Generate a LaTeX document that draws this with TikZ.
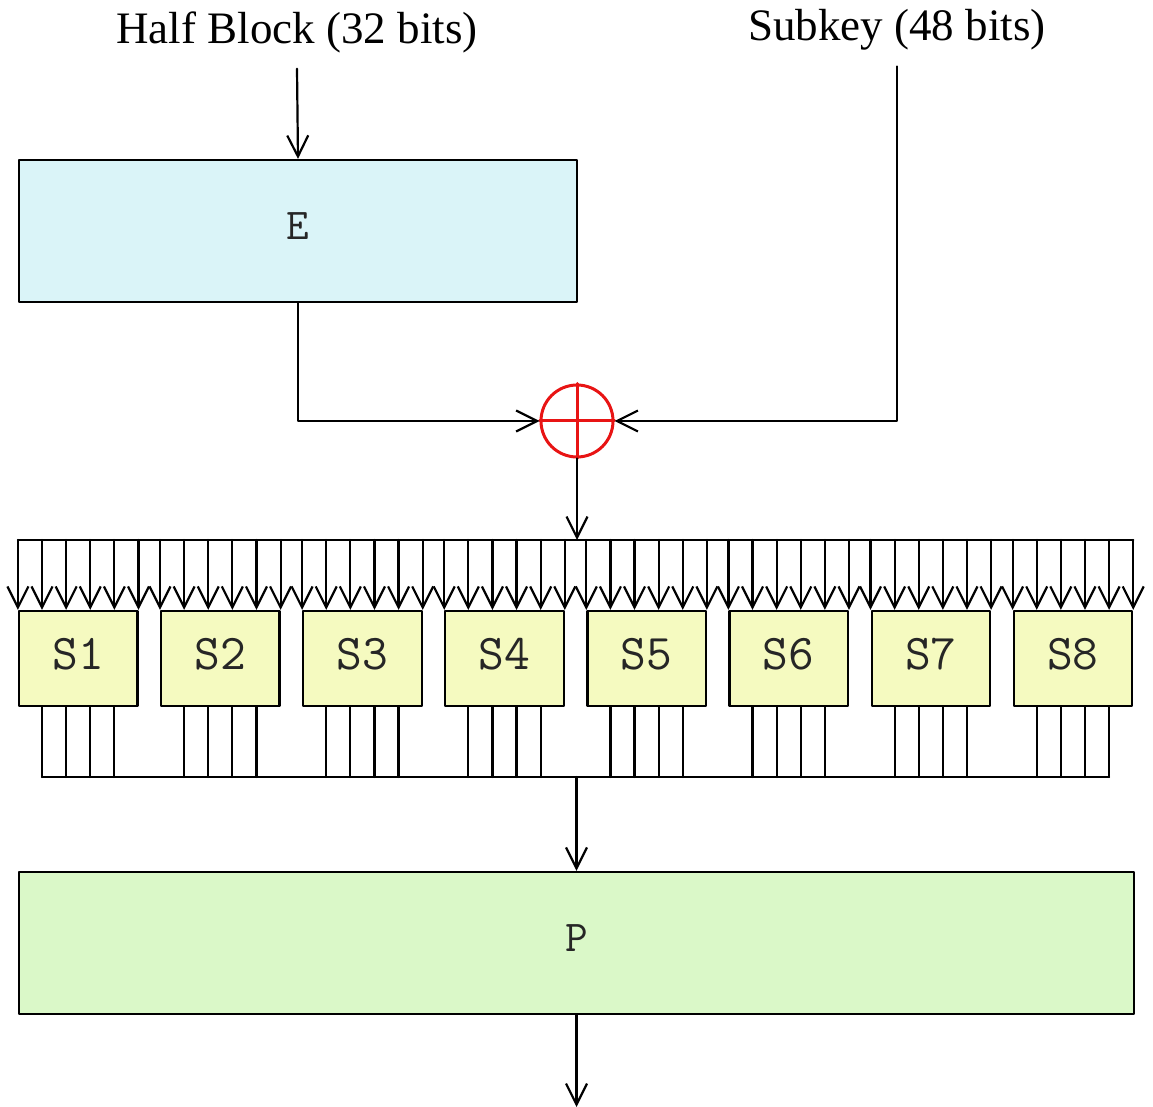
\documentclass[tikz,border=0pt]{standalone}
\usepackage{fontspec}
\setmainfont{Liberation Serif}
\usetikzlibrary{arrows.meta,calc}
\definecolor{ecyan}{RGB}{218,244,248}
\definecolor{syellow}{RGB}{245,250,192}
\definecolor{pgreen}{RGB}{218,248,200}
\definecolor{xorred}{RGB}{232,20,20}

\begin{document}
\begin{tikzpicture}[x=0.5pt,y=-0.5pt,line cap=round,line join=round,line width=1.1pt,
  >={Straight Barb[length=10.5pt,width=10.5pt]},
  title/.style={font=\fontsize{22.5}{26}\selectfont,inner sep=0pt,outer ysep=8pt},
  fbox/.style={draw,line width=1.1pt,text=black!85,inner sep=0pt,text depth=5pt,font=\ttfamily\fontsize{22}{26}\selectfont},
  sbox/.style={fbox,fill=syellow,minimum width=59.2pt,minimum height=47.5pt,font=\ttfamily\fontsize{25}{29}\selectfont}]
  \useasboundingbox (0,0) rectangle (1153,1107);
  \node[title] (hb) at (297,32) {Half Block (32 bits)};
  \node[title] (sk) at (897,30) {Subkey (48 bits)};
  \node[fbox,fill=ecyan,minimum width=279pt,minimum height=71pt] (E) at (298,231) {E};
  \node[circle,draw=xorred,line width=1.5pt,minimum size=36pt,inner sep=0pt] (xor) at (577,421) {};
  \draw[xorred,line width=1.5pt] (xor.north) -- (xor.south) (xor.west) -- (xor.east);
  \draw[->] (hb.south) -- (E.north);
  \draw[->] (E.south) |- (xor.west);
  \draw[->] (sk.south) |- (xor.east);
  \coordinate (bus) at (577,540);
  \coordinate (obus) at (577,777);
  \draw[->] (xor.south) -- (xor |- bus);
  \foreach \i in {1,...,8}
    \node[sbox] (s\i) at ({78.2+142.1*(\i-1)},658.5) {S\i};
  \foreach \i in {1,...,8} {
    \foreach \j in {0,...,5} {
      \coordinate (in\i\j) at ($(s\i.north west)!\j/5!(s\i.north east)$);
      \draw[->] (in\i\j |- bus) -- (in\i\j);
    }
    \foreach \j in {1,...,4} {
      \coordinate (out\i\j) at ($(s\i.south west)!\j/5!(s\i.south east)$);
      \draw (out\i\j) -- (out\i\j |- obus);
    }
  }
  \draw (in10 |- bus) -- (in85 |- bus);
  \draw (out11 |- obus) -- (out84 |- obus);
  \node[fbox,fill=pgreen,minimum width=557.5pt,minimum height=71pt] (P) at (576.5,943) {P};
  \draw[->] (P.north |- obus) -- (P.north);
  \coordinate (end) at (576.5,1107);
  \draw[->] (P.south) -- (end);
\end{tikzpicture}
\end{document}
